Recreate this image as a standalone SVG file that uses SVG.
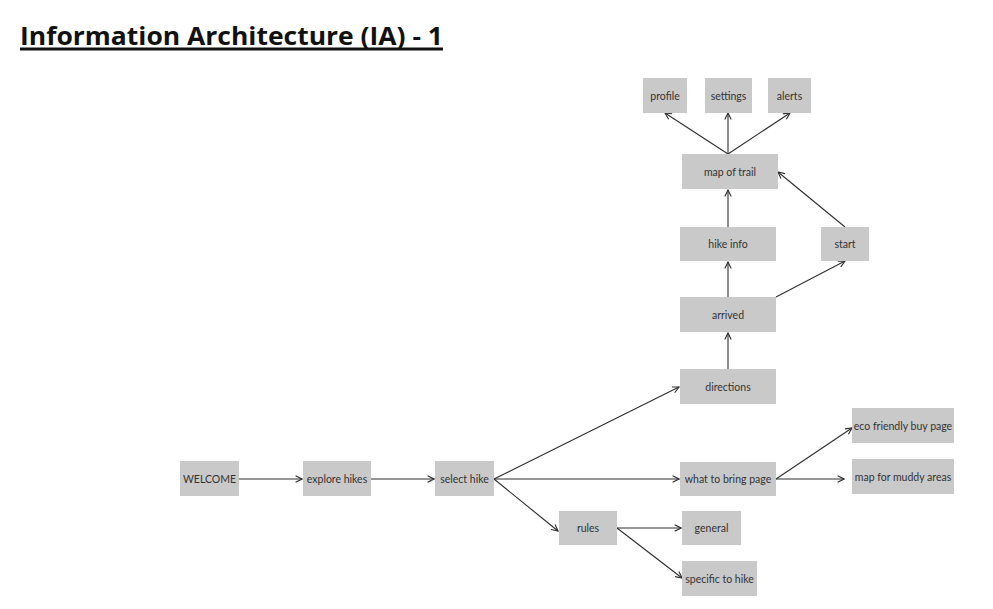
<svg xmlns="http://www.w3.org/2000/svg" width="993" height="609" viewBox="0 0 993 609">
<style>
.box{fill:#c9c9c9;}
.lbl{font-family:Lato,"Open Sans","Liberation Sans",sans-serif;font-size:10.5px;fill:#333;text-anchor:middle;dominant-baseline:central;}
.edge{stroke:#2e2e2e;stroke-width:1.1;fill:none;marker-end:url(#arr);}
.title{font-family:"Open Sans","Liberation Sans",Arial,sans-serif;font-weight:bold;font-size:25px;fill:#111;}
</style>
<defs>
<marker id="arr" viewBox="0 0 10 10" refX="9" refY="5" markerWidth="8" markerHeight="8" markerUnits="userSpaceOnUse" orient="auto">
<path d="M1,1 L9,5 L1,9" fill="none" stroke="#2e2e2e" stroke-width="1.4"/>
</marker>
</defs>
<rect width="993" height="609" fill="#fff"/>
<g id="title">
<text class="title" x="20" y="45" textLength="423" lengthAdjust="spacingAndGlyphs">Information Architecture (IA) - 1</text>
<rect x="20" y="47.5" width="423" height="3" fill="#111"/>
</g>
<g id="connectors">
<path class="edge" d="M239,479 L302,479"/>
<path class="edge" d="M371,479 L434,479"/>
<path class="edge" d="M494,479 L679,387"/>
<path class="edge" d="M494,479 L679,479"/>
<path class="edge" d="M494,479 L558,531"/>
<path class="edge" d="M617,528 L681,528"/>
<path class="edge" d="M617,528 L682,578"/>
<path class="edge" d="M776,479 L852,428"/>
<path class="edge" d="M776,479 L844,479"/>
<path class="edge" d="M728,369 L728,333"/>
<path class="edge" d="M728,297 L728,262"/>
<path class="edge" d="M776,297 L845,261"/>
<path class="edge" d="M728,227 L728,190"/>
<path class="edge" d="M845,227 L778,172"/>
<path class="edge" d="M728,154 L665,113"/>
<path class="edge" d="M728,154 L728,113"/>
<path class="edge" d="M728,154 L790,113"/>
</g>
<g id="profile"><rect class="box" x="643" y="78" width="44" height="35"/><text class="lbl" x="665" y="95.5">profile</text></g>
<g id="settings"><rect class="box" x="705" y="78" width="47" height="35"/><text class="lbl" x="728.5" y="95.5">settings</text></g>
<g id="alerts"><rect class="box" x="768" y="78" width="43" height="35"/><text class="lbl" x="789.5" y="95.5">alerts</text></g>
<g id="map-of-trail"><rect class="box" x="682" y="154" width="96" height="35"/><text class="lbl" x="730" y="171.5">map of trail</text></g>
<g id="hike-info"><rect class="box" x="680" y="227" width="96" height="34"/><text class="lbl" x="728" y="244">hike info</text></g>
<g id="start"><rect class="box" x="821" y="227" width="48" height="34"/><text class="lbl" x="845" y="244">start</text></g>
<g id="arrived"><rect class="box" x="680" y="297" width="96" height="35"/><text class="lbl" x="728" y="314.5">arrived</text></g>
<g id="directions"><rect class="box" x="680" y="369" width="96" height="35"/><text class="lbl" x="728" y="386.5">directions</text></g>
<g id="eco-friendly"><rect class="box" x="852" y="408" width="102" height="35"/><text class="lbl" x="903" y="425.5">eco friendly buy page</text></g>
<g id="map-muddy"><rect class="box" x="852" y="459" width="102" height="35"/><text class="lbl" x="903" y="476.5">map for muddy areas</text></g>
<g id="what-to-bring"><rect class="box" x="680" y="462" width="96" height="34"/><text class="lbl" x="728" y="479">what to bring page</text></g>
<g id="welcome"><rect class="box" x="180" y="461" width="59" height="35"/><text class="lbl" x="209.5" y="478.5">WELCOME</text></g>
<g id="explore-hikes"><rect class="box" x="303" y="461" width="68" height="35"/><text class="lbl" x="337" y="478.5">explore hikes</text></g>
<g id="select-hike"><rect class="box" x="435" y="461" width="59" height="35"/><text class="lbl" x="464.5" y="478.5">select hike</text></g>
<g id="rules"><rect class="box" x="559" y="511" width="58" height="34"/><text class="lbl" x="588" y="528">rules</text></g>
<g id="general"><rect class="box" x="682" y="511" width="59" height="34"/><text class="lbl" x="711.5" y="528">general</text></g>
<g id="specific"><rect class="box" x="682" y="561" width="75" height="35"/><text class="lbl" x="719.5" y="578.5">specific to hike</text></g>
</svg>
